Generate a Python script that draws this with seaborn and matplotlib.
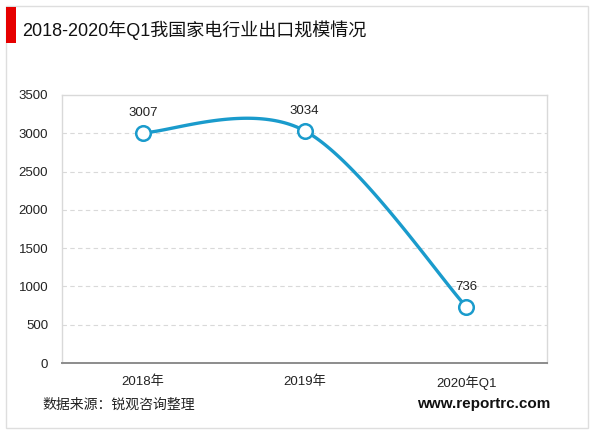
import numpy as np
import pandas as pd
import matplotlib
matplotlib.use("Agg")
import matplotlib.pyplot as plt
import seaborn as sns
from matplotlib.patches import Rectangle

# Data
categories = ["2018年", "2019年", "2020年Q1"]
values = [3007, 3034, 736]
y_ticks = [0, 500, 1000, 1500, 2000, 2500, 3000, 3500]

title = "2018-2020年Q1我国家电行业出口规模情况"
source = "数据来源：锐观咨询整理"
site = "www.reportrc.com"

LINE_COLOR = "#1a9bcc"

sns.set_theme(style="white")
plt.rcParams["font.family"] = ["Liberation Sans", "Noto Sans CJK SC", "DejaVu Sans"]


def smooth_curve(xs, ys, n=60):
    # Excel-like smoothed line: cubic bezier with catmull-rom control points
    pts = np.column_stack([xs, ys]).astype(float)
    padded = np.vstack([pts[0], pts, pts[-1]])
    out = []
    t = np.linspace(0, 1, n)[:, None]
    for i in range(len(pts) - 1):
        p0, p1, p2, p3 = padded[i], padded[i + 1], padded[i + 2], padded[i + 3]
        c1 = p1 + (p2 - p0) / 6
        c2 = p2 - (p3 - p1) / 6
        seg = ((1 - t) ** 3) * p1 + 3 * ((1 - t) ** 2) * t * c1 + 3 * (1 - t) * t ** 2 * c2 + t ** 3 * p2
        out.append(seg if i == 0 else seg[1:])
    return np.vstack(out)


x_pos = np.arange(len(categories))
curve = smooth_curve(x_pos, values)
curve_df = pd.DataFrame({"x": curve[:, 0], "y": curve[:, 1]})
pts_df = pd.DataFrame({"x": x_pos, "y": values})

fig = plt.figure(figsize=(6, 4.33), dpi=100)
ax = fig.add_axes([62 / 600, 1 - 363 / 433, 485 / 600, 268 / 433])

sns.lineplot(data=curve_df, x="x", y="y", ax=ax, sort=False, estimator=None,
             color=LINE_COLOR, linewidth=2.4, zorder=3)
sns.scatterplot(data=pts_df, x="x", y="y", ax=ax, s=110, marker="o",
                facecolor="white", edgecolor=LINE_COLOR, linewidth=1.8, zorder=4)

for xv, yv in zip(x_pos, values):
    ax.annotate(str(yv), (xv, yv), xytext=(0, 14), textcoords="offset points",
                ha="center", va="center", fontsize=9.5, color="#222222")

ax.set_xlim(-0.5, len(categories) - 0.5)
ax.set_ylim(0, 3500)
ax.set_yticks(y_ticks)
ax.set_xticks(x_pos)
ax.set_xticklabels(categories)
ax.set_xlabel("")
ax.set_ylabel("")
ax.tick_params(axis="both", length=0, labelsize=9.5, colors="#222222")
ax.tick_params(axis="y", pad=10)
ax.tick_params(axis="x", pad=9)

for yv in y_ticks[1:-1]:
    ax.axhline(yv, color="#d9d9d9", linestyle=(0, (4, 3)), linewidth=0.8, zorder=1)

for side in ["left", "top", "right"]:
    ax.spines[side].set_color("#d9d9d9")
    ax.spines[side].set_linewidth(1.0)
ax.spines["bottom"].set_color("#8c8c8c")
ax.spines["bottom"].set_linewidth(1.4)

# outer frame and title marker
fig.patches.append(Rectangle((6 / 600, 1 - 428 / 433), 582 / 600, 422 / 433,
                             transform=fig.transFigure, fill=False,
                             edgecolor="#dedede", linewidth=1.0))
fig.patches.append(Rectangle((6 / 600, 1 - 43 / 433), 10 / 600, 36 / 433,
                             transform=fig.transFigure, facecolor="#e60000",
                             edgecolor="none"))

fig.text(22 / 600, 1 - 30 / 433, title, fontsize=13, va="center", ha="left", color="#111111")
fig.text(42 / 600, 1 - 405 / 433, source, fontsize=10, va="center", ha="left", color="#222222")
fig.text(550 / 600, 1 - 404 / 433, site, fontsize=11, va="center", ha="right",
         fontweight="bold", color="#111111")

fig.savefig("out.png", dpi=100)
